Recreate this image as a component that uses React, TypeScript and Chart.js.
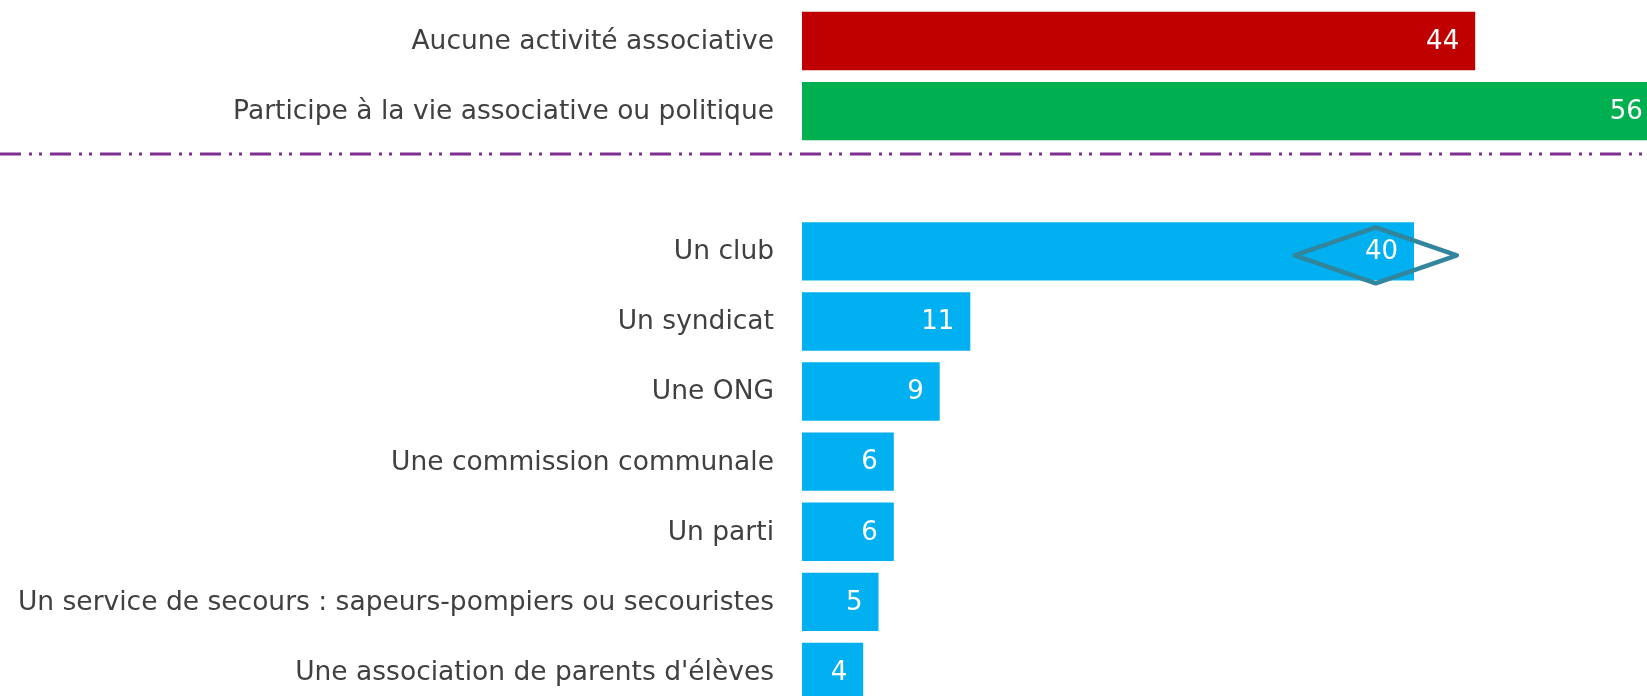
import React, { useEffect, useRef } from "react";
import { Chart, registerables } from "chart.js";

Chart.register(...registerables);

const categories: string[] = [
  "Aucune activité associative",
  "Participe à la vie associative ou politique",
  "",
  "Un club",
  "Un syndicat",
  "Une ONG",
  "Une commission communale",
  "Un parti",
  "Un service de secours : sapeurs-pompiers ou secouristes",
  "Une association de parents d'élèves",
];

const values: (number | null)[] = [44, 56, null, 40, 11, 9, 6, 6, 5, 4];

const barColors: string[] = [
  "#C00000",
  "#00B050",
  "#00B0F0",
  "#00B0F0",
  "#00B0F0",
  "#00B0F0",
  "#00B0F0",
  "#00B0F0",
  "#00B0F0",
  "#00B0F0",
];

// comparison marker (diamond) drawn on "Un club"
const markerCategory = "Un club";
const markerValue = 37.5;
const markerHalfWidth = 5.3; // in value units

const FONT = "'DejaVu Sans', Verdana, sans-serif";

const valueLabelPlugin = {
  id: "valueLabels",
  afterDatasetsDraw(chart: any) {
    const ctx = chart.ctx;
    const meta = chart.getDatasetMeta(0);
    ctx.save();
    ctx.font = `26px ${FONT}`;
    ctx.fillStyle = "#FFFFFF";
    ctx.textAlign = "right";
    ctx.textBaseline = "middle";
    meta.data.forEach((el: any, i: number) => {
      const v = values[i];
      if (v === null || v === undefined) return;
      ctx.fillText(String(v), el.x - 16, el.y + 1);
    });
    ctx.restore();
  },
};

const dividerPlugin = {
  id: "divider",
  afterDatasetsDraw(chart: any, _args: any, opts: any) {
    const ctx = chart.ctx;
    const y = chart.scales.y.getPixelForValue(opts.position);
    ctx.save();
    ctx.strokeStyle = opts.color;
    ctx.lineWidth = 3;
    ctx.setLineDash([21, 8, 3, 7, 3, 8]);
    ctx.beginPath();
    ctx.moveTo(0, y);
    ctx.lineTo(chart.width, y);
    ctx.stroke();
    ctx.restore();
  },
};

const diamondPlugin = {
  id: "diamond",
  afterDatasetsDraw(chart: any, _args: any, opts: any) {
    const ctx = chart.ctx;
    const xs = chart.scales.x;
    const ys = chart.scales.y;
    const idx = categories.indexOf(markerCategory);
    const cx = xs.getPixelForValue(markerValue);
    const left = xs.getPixelForValue(markerValue - markerHalfWidth);
    const right = xs.getPixelForValue(markerValue + markerHalfWidth);
    const cy = ys.getPixelForValue(idx) + opts.offsetY;
    const hh = opts.halfHeight;
    ctx.save();
    ctx.strokeStyle = opts.color;
    ctx.lineWidth = 4.5;
    ctx.lineJoin = "round";
    ctx.beginPath();
    ctx.moveTo(left, cy);
    ctx.lineTo(cx, cy - hh);
    ctx.lineTo(right, cy);
    ctx.lineTo(cx, cy + hh);
    ctx.closePath();
    ctx.stroke();
    ctx.restore();
  },
};

export default function App() {
  const canvasRef = useRef<HTMLCanvasElement | null>(null);

  useEffect(() => {
    if (!canvasRef.current) return;
    const chart = new Chart(canvasRef.current, {
      type: "bar",
      data: {
        labels: categories,
        datasets: [
          {
            data: values as any,
            backgroundColor: barColors,
            borderWidth: 0,
            categoryPercentage: 1,
            barPercentage: 0.833,
          },
        ],
      },
      options: {
        indexAxis: "y",
        responsive: false,
        animation: false,
        layout: { padding: { top: 6, bottom: 0, left: 0, right: 0 } },
        scales: {
          x: {
            display: false,
            min: 0,
            max: 60,
          },
          y: {
            grid: { display: false, drawTicks: false },
            border: { display: false },
            ticks: {
              padding: 28,
              color: "#404040",
              font: { family: FONT, size: 26.5 },
              autoSkip: false,
              labelOffset: 1,
            },
            afterFit(scale: any) {
              scale.width = 802;
              scale.paddingTop = 0;
              scale.paddingBottom = 0;
            },
          },
        },
        plugins: {
          legend: { display: false },
          tooltip: { enabled: false },
          divider: { position: 1.61, color: "#7F2F8F" },
          diamond: { color: "#31859C", offsetY: 4, halfHeight: 28 },
        } as any,
      },
      plugins: [dividerPlugin, diamondPlugin, valueLabelPlugin],
    });
    return () => chart.destroy();
  }, []);

  return (
    <div
      style={{
        position: "fixed",
        left: 0,
        top: 0,
        width: "100vw",
        height: "100vh",
        overflow: "hidden",
        background: "#FFFFFF",
      }}
    >
      <canvas ref={canvasRef} width={1720} height={707} style={{ display: "block" }} />
    </div>
  );
}
